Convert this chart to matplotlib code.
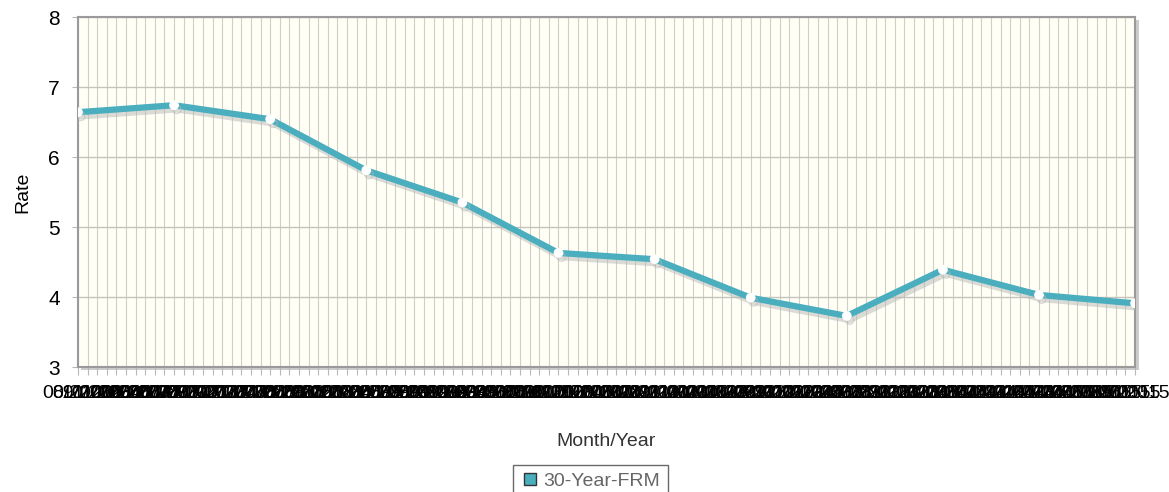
import matplotlib
matplotlib.use("Agg")
import matplotlib.pyplot as plt
import matplotlib.patheffects as pe
from matplotlib.patches import Rectangle
import pandas as pd

plt.rcParams['font.family'] = ['Liberation Sans', 'DejaVu Sans']

# categorias mensais do eixo x
months = [d.strftime('%m/%Y') for d in pd.date_range('2006-08-01', periods=111, freq='MS')]

# taxas 30-Year-FRM
rate_months = ['08/2006', '06/2007', '04/2008', '02/2009', '12/2009', '10/2010',
               '08/2011', '06/2012', '04/2013', '02/2014', '12/2014', '10/2015']
rates = [6.64, 6.74, 6.54, 5.81, 5.35, 4.63, 4.54, 3.99, 3.73, 4.39, 4.03, 3.91]

x = [months.index(m) for m in rate_months]

fig = plt.figure(figsize=(11.69, 4.92), dpi=100)
ax = fig.add_axes([0.0667, 0.254, 0.9043, 0.7114])
ax.set_facecolor('#fffff6')

# sombra da moldura
sh = Rectangle((0.0667 + 0.003, 0.254 - 0.007), 0.9043, 0.7114,
               transform=fig.transFigure, facecolor='#cccccc', edgecolor='none', zorder=-1)
fig.patches.append(sh)

ax.plot(x, rates, color='#4aaebe', lw=4.5, marker='o', ms=6,
        mfc='white', mec='white', zorder=3, label='30-Year-FRM',
        path_effects=[pe.SimpleLineShadow(offset=(2, -3), shadow_color='#b8b8b8', alpha=0.5), pe.Normal()])

ax.set_xlim(0, len(months) - 1)
ax.set_ylim(3, 8)
ax.set_yticks([3, 4, 5, 6, 7, 8])
ax.set_xticks(range(len(months)))
ax.set_xticklabels(months, fontsize=14)
ax.tick_params(axis='x', length=6, color='#b8b8b8', pad=7)
ax.tick_params(axis='y', length=4, color='#b8b8b8', labelsize=15, pad=9)
ax.grid(True, axis='x', color='#cfcfc6', lw=0.8)
ax.grid(True, axis='y', color='#c4c4bc', lw=1.0)
ax.set_axisbelow(True)
for s in ax.spines.values():
    s.set_color('#9a9a9a')
    s.set_linewidth(1.5)

ax.set_ylabel('Rate', fontsize=14, labelpad=12)
ax.set_xlabel('Month/Year', fontsize=14, labelpad=22, color='#333333')

leg = fig.legend(handles=[plt.Line2D([], [], ls='none', marker='s', ms=9,
                                     mfc='#4aaebe', mec='#333333')],
                 labels=['30-Year-FRM'], loc='upper center', bbox_to_anchor=(0.505, 0.075),
                 fancybox=False, edgecolor='#444444', fontsize=14, handletextpad=0.2,
                 handlelength=1.0, borderpad=0.4)
for t in leg.get_texts():
    t.set_color('#666666')

fig.savefig('out.png', dpi=100)
